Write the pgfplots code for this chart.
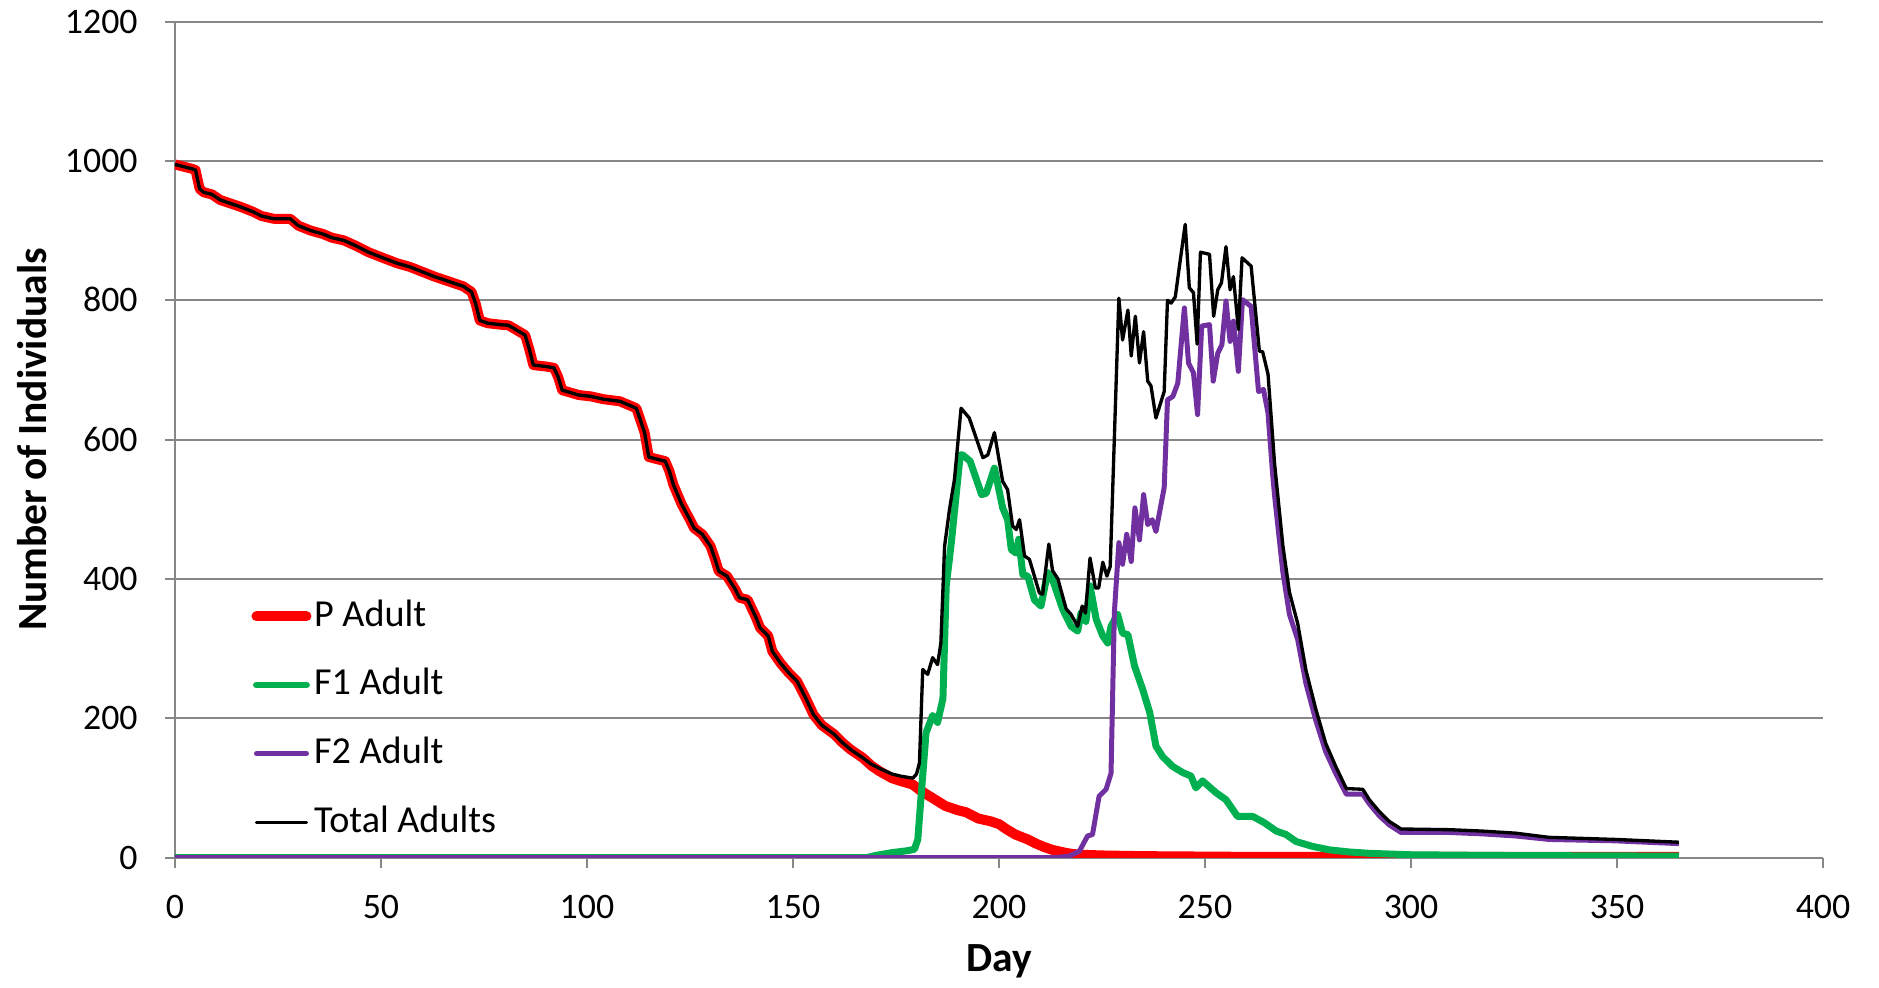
\documentclass[border=0pt]{standalone}
\usepackage{pgfplots}
\pgfplotsset{compat=1.18}
\usepackage{fontspec}
\setmainfont{Carlito}
\definecolor{pred}{HTML}{FF0000}
\definecolor{fgreen}{HTML}{00B050}
\definecolor{fpurple}{HTML}{7030A0}
\definecolor{gridgray}{HTML}{878787}
\begin{document}
\begin{tikzpicture}
\begin{axis}[
  scale only axis,
  width=494.7bp, height=250.9bp,
  xmin=0, xmax=400, ymin=0, ymax=1200,
  xtick={0,50,...,400}, ytick={0,200,...,1200},
  axis lines=left,
  axis line style={draw=gridgray, line width=0.6bp, -},
  ymajorgrids,
  major grid style={draw=gridgray, line width=0.6bp},
  tick align=outside,
  major tick length=3bp,
  tick style={draw=gridgray, line width=0.6bp},
  /pgf/number format/1000 sep={},
  /pgf/number format/assume math mode=true,
  tick label style={font=\fontsize{10.8}{12}\selectfont, inner sep=0pt},
  xticklabel style={anchor=north, text height=7bp, text depth=0pt, yshift=-8bp},
  yticklabel style={anchor=east, text height=7bp, text depth=0pt, xshift=-8bp},
  xlabel={Day}, ylabel={Number of Individuals},
  every axis x label/.style={at={(axis description cs:0.5,0)}, anchor=center, yshift=-31bp, font=\fontsize{12.5}{14}\selectfont\bfseries},
  every axis y label/.style={at={(axis description cs:0,0.5)}, rotate=90, anchor=center, yshift=43bp, font=\fontsize{12.5}{14}\selectfont\bfseries},
  legend style={at={(rel axis cs:0,0)}, anchor=south west, xshift=19.8bp, yshift=2.6bp,
    draw=none, fill=none, font=\fontsize{11.5}{13}\selectfont, row sep=9bp, column sep=0pt,
    nodes={inner sep=0.8bp, text height=8bp, text depth=2bp}},
  legend cell align=left,
  legend image code/.code={\draw[#1, line cap=round] (0bp,0bp) -- (15bp,0bp);},
  line join=round,
]
% P Adult
\addplot[pred, line width=3bp] coordinates {
(0,995) (2,992) (4,989) (5,987) (6,960) (7,955) (9,952) (11,944) (14,938) (16,934)
(19,927) (21,921) (24,917) (28,917) (30,907) (33,900) (36,895) (38,890) (41,886) (44,878)
(47,869) (50,862) (54,853) (57,848) (60,841) (63,834) (67,826) (70,820) (72,812) (73,795)
(74,771) (76,767) (79,765) (81,764) (83,757) (85,750) (86,730) (87,707) (90,705) (92,703)
(93,690) (94,671) (98,664) (101,662) (104,658) (108,655) (110,650) (112,645) (114,610) (115,575)
(119,569) (120,555) (121,535) (123,507) (125,485) (126,473) (128,464) (130,447) (131,430) (132,411)
(134,404) (136,385) (137,373) (139,370) (141,345) (142,330) (144,318) (145,296) (147,279) (149,265)
(151,253) (153,230) (155,205) (157,190) (160,177) (162,165) (164,155) (167,143) (169,132) (171,124)
(174,114) (176,110) (179,105) (181,96) (184,85) (187,74) (190,68) (192,65) (195,56) (198,52)
(200,48) (202,40) (204,33) (207,26) (209,20) (211,15) (213,11) (216,7) (218,5) (220,4)
(225,3) (235,2) (260,1) (365,1)
};
\addlegendentry{P Adult}
% F1 Adult
\addplot[fgreen, line width=2.1bp] coordinates {
(0,0) (168,0) (170,3) (174,7) (178,10) (179.5,12) (180.3,26) (181.1,88) (182.3,179) (183.9,204)
(185.1,194) (186.4,228) (187.2,390) (188.4,450) (190.6,578) (191.2,578) (193,569) (195.8,521) (196.9,523) (198.9,559)
(200.9,502) (202.1,485) (203,442) (204.2,437) (204.8,457) (205.8,406) (207,404) (208.6,370) (210.2,361) (211.8,409)
(213,399) (215.5,356) (217.5,332) (219.1,325) (219.9,351) (221.1,339) (222.1,390) (223.6,342) (225.2,318) (226.4,308)
(227.2,332) (228.8,349) (230,322) (231.3,320) (232.9,275) (234.9,241) (236.6,208) (238.1,160) (239.7,145) (242.1,131)
(244.6,122) (246.6,117) (247.8,100) (249.4,110) (252.7,93) (255.1,83) (257.9,59) (261.6,59) (264.4,50) (267.3,38)
(269.7,33) (272.1,23) (276.1,16) (280.2,11) (285,8) (290,6) (300,4) (320,3) (365,2)
};
\addlegendentry{F1 Adult}
% F2 Adult
\addplot[fpurple, line width=1.5bp] coordinates {
(0,0) (214,0) (217,2) (219.5,9) (221.5,31) (222.7,33) (224.3,88) (226,98) (227.2,121) (228,351)
(229.1,452) (230,421) (231,464) (232.1,425) (233,502) (234.1,456) (235.1,521) (236.1,478) (237.2,485) (238.1,468)
(240.1,531) (240.9,657) (242.2,662) (243.4,681) (245,789) (246,710) (247.2,696) (248.2,636) (249.2,763) (251.1,765)
(252,684) (253.1,724) (254.1,736) (255.1,799) (256.1,741) (256.9,770) (258.1,698) (259.1,801) (261.2,791) (263,669)
(264.2,672) (265.3,638) (266.4,552) (266.9,519) (268.9,410) (270.5,349) (272.5,313) (274.5,250) (276.9,197) (279.3,152)
(281.8,120) (284.3,91) (288.3,91) (289.9,77) (292.3,60) (294.7,47) (297.6,36) (309.3,36) (317.3,34) (325.4,31)
(333.5,26) (349.6,24) (365,20)
};
\addlegendentry{F2 Adult}
% Total Adults
\addplot[black, line width=1bp] coordinates {
(0,995) (2,992) (4,989) (5,987) (6,960) (7,955) (9,952) (11,944) (14,938) (16,934)
(19,927) (21,921) (24,917) (28,917) (30,907) (33,900) (36,895) (38,890) (41,886) (44,878)
(47,869) (50,862) (54,853) (57,848) (60,841) (63,834) (67,826) (70,820) (72,812) (73,795)
(74,771) (76,767) (79,765) (81,764) (83,757) (85,750) (86,730) (87,707) (90,705) (92,703)
(93,690) (94,671) (98,664) (101,662) (104,658) (108,655) (110,650) (112,645) (114,610) (115,575)
(119,569) (120,555) (121,535) (123,507) (125,485) (126,473) (128,464) (130,447) (131,430) (132,411)
(134,404) (136,385) (137,373) (139,370) (141,345) (142,330) (144,318) (145,296) (147,279) (149,265)
(151,253) (153,230) (155,205) (157,190) (160,177) (162,165) (164,155) (167,143) (169,134) (171,128)
(174,120) (176,117) (178,115) (179.1,114) (180,120) (180.7,136) (181.5,270) (182.7,263) (183.9,287) (185.1,277)
(185.9,308) (186.8,447) (188,500) (189.2,543) (190.8,645) (192.8,631) (196.1,574) (197.3,578) (198.9,610) (200.9,540)
(202.1,528) (203.3,476) (204.2,471) (205,485) (206.2,433) (207.4,428) (208.6,404) (209.8,380) (210.6,378) (212.1,450)
(213,412) (214.3,400) (216.3,357) (217.5,349) (219.1,332) (220.2,361) (221,351) (222.1,430) (223.4,387) (224.2,387)
(225.2,424) (226.2,404) (227,418) (229.1,803) (230,743) (231.3,786) (232.1,720) (233.1,777) (234.1,710) (235.1,755)
(236.1,684) (236.9,677) (238.1,631) (240.1,669) (240.9,800) (241.8,796) (242.8,805) (243.8,849) (245.2,909) (246.2,818)
(247.2,811) (248.1,737) (248.9,869) (251.1,866) (252.1,777) (253.1,815) (254,825) (255.1,877) (256.1,815) (256.9,834)
(258.1,758) (259,861) (261.2,849) (263.2,727) (264,726) (265.3,694) (266.9,565) (268.9,448) (270.5,381) (272.5,336)
(274.5,269) (276.9,213) (279.3,164) (281.8,130) (284.3,99) (288.3,98) (289.9,83) (292.3,66) (294.7,52) (297.6,41)
(309.3,40) (317.3,38) (325.4,35) (333.5,29) (349.6,26) (365,22)
};
\addlegendentry{Total Adults}
\end{axis}
\pgfresetboundingbox
\path (current axis.south west) ++(-52.5bp,-39bp) rectangle ++(564bp,296.4bp);
\end{tikzpicture}
\end{document}
